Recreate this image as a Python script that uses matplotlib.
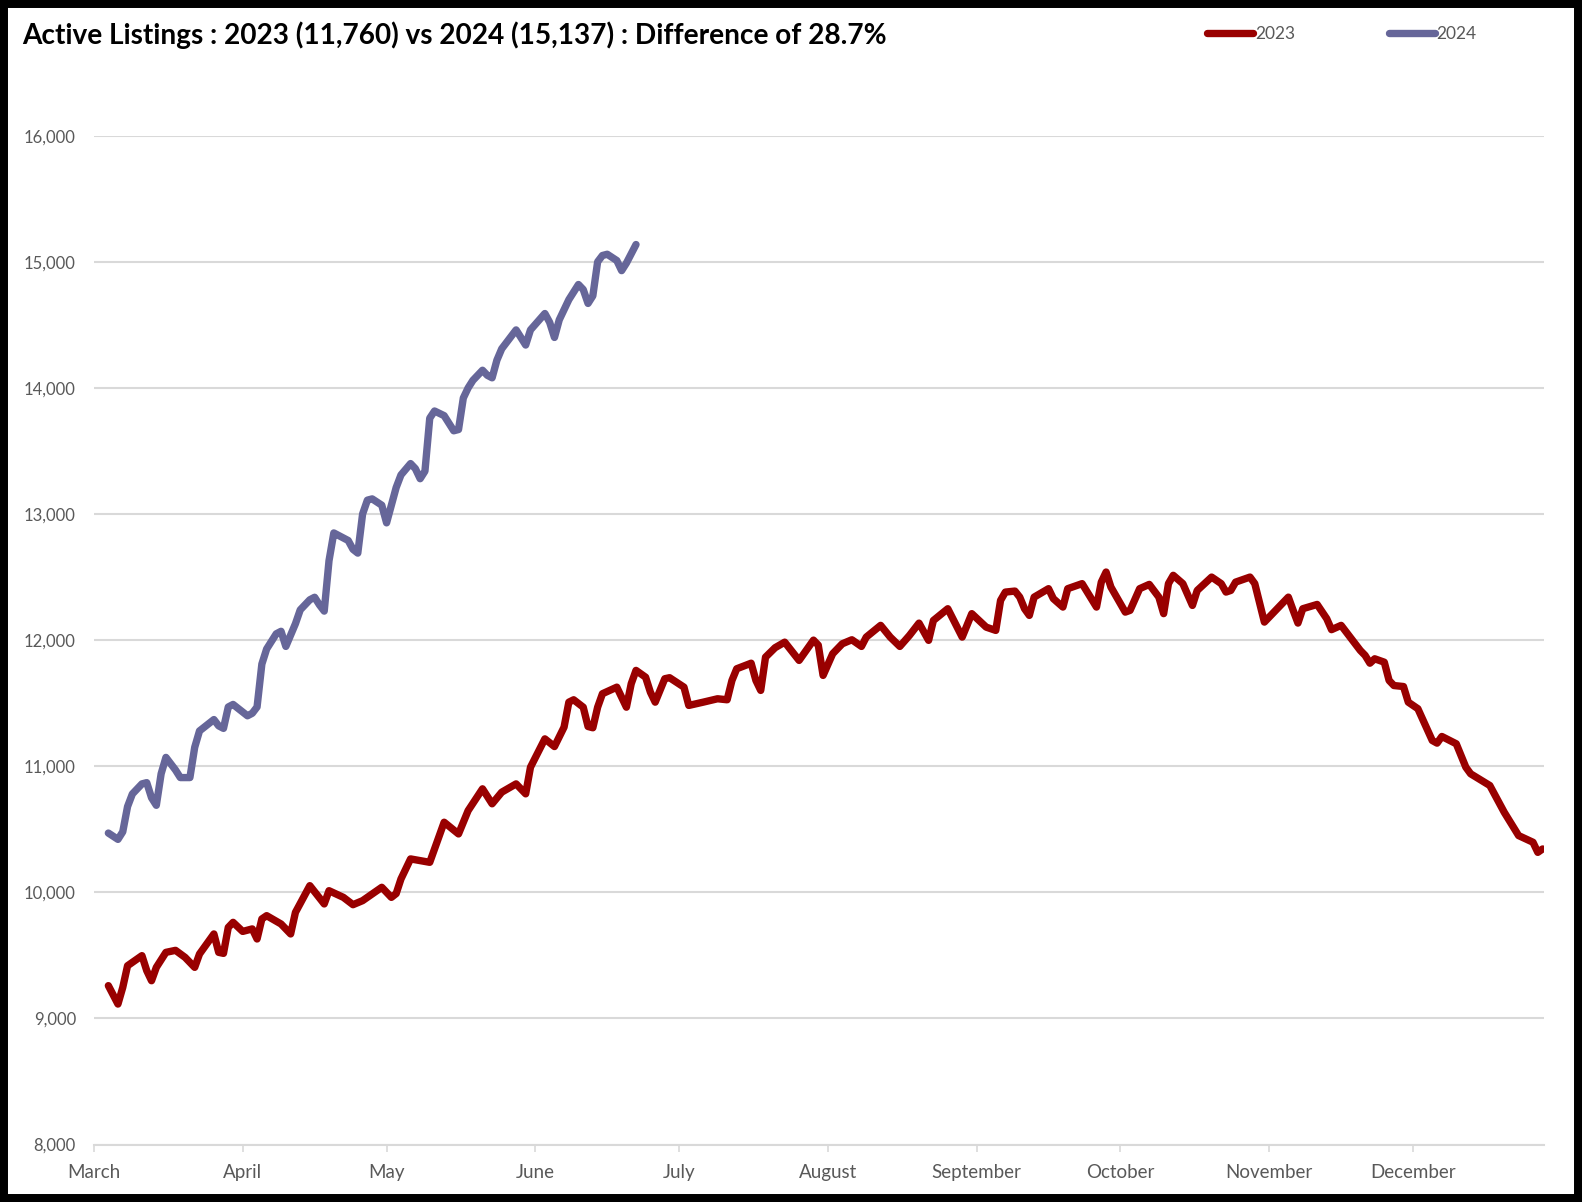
import pandas as pd
import matplotlib
matplotlib.use("Agg")
import matplotlib.pyplot as plt
import matplotlib.dates as mdates
from matplotlib.patches import Rectangle
from matplotlib.ticker import FuncFormatter

# days counted from 1 March
days_2023 = [3, 5, 6, 7, 10, 11, 12, 13, 15, 17, 19, 21, 22, 25, 26, 27, 28, 29, 31,
             33, 34, 35, 36, 39, 41, 42, 45, 48, 49, 52, 54, 56, 60, 62, 63, 64, 66,
             70, 73, 76, 78, 81, 83, 85, 88, 90, 91, 94, 96, 98, 99, 100, 102, 103,
             104, 105, 106, 109, 111, 112, 113, 115, 116, 117, 119, 120, 123, 124,
             127, 130, 132, 133, 134, 137, 138, 139, 140, 142, 144, 147, 150, 151,
             152, 154, 156, 158, 160, 161, 164, 166, 168, 170, 172, 174, 175, 178,
             181, 183, 186, 188, 189, 190, 192, 193, 194, 195, 196, 199, 200, 202,
             203, 206, 209, 210, 211, 212, 215, 216, 218, 220, 222, 223, 224, 225,
             227, 229, 230, 233, 235, 236, 237, 238, 241, 242, 244, 246, 249, 250,
             251, 252, 255, 257, 258, 260, 264, 265, 266, 267, 269, 270, 271, 273,
             274, 276, 279, 280, 281, 284, 286, 287, 291, 294, 297, 300, 301, 302]
listings_2023 = [9260, 9114, 9246, 9418, 9498, 9379, 9299, 9405, 9524, 9540, 9484, 9405,
                 9511, 9670, 9524, 9516, 9722, 9762, 9690, 9710, 9630, 9789, 9815, 9749,
                 9670, 9841, 10053, 9908, 10013, 9960, 9902, 9934, 10040, 9960, 9990,
                 10106, 10265, 10238, 10556, 10463, 10648, 10821, 10702, 10794, 10860,
                 10781, 10992, 11217, 11156, 11310, 11508, 11527, 11468, 11315, 11305,
                 11468, 11575, 11627, 11468, 11654, 11760, 11706, 11587, 11508, 11694,
                 11702, 11627, 11482, 11508, 11535, 11527, 11680, 11773, 11817, 11680,
                 11601, 11865, 11940, 11984, 11839, 12000, 11960, 11720, 11892, 11971,
                 12003, 11950, 12024, 12117, 12024, 11950, 12037, 12135, 11998, 12156,
                 12249, 12024, 12210, 12103, 12077, 12315, 12381, 12389, 12341, 12249,
                 12196, 12341, 12408, 12329, 12262, 12408, 12448, 12262, 12460, 12540,
                 12421, 12222, 12236, 12408, 12442, 12341, 12210, 12448, 12514, 12448,
                 12275, 12394, 12500, 12448, 12381, 12394, 12460, 12500, 12448, 12143,
                 12222, 12341, 12236, 12135, 12249, 12283, 12170, 12083, 12117, 11918,
                 11879, 11817, 11852, 11825, 11680, 11640, 11632, 11508, 11456, 11204,
                 11183, 11236, 11178, 10992, 10940, 10847, 10635, 10450, 10397, 10317,
                 10344]

days_2024 = [3, 5, 6, 7, 8, 10, 11, 12, 13, 14, 15, 17, 18, 20, 21, 22, 25, 26, 27, 28,
             29, 32, 33, 34, 35, 36, 38, 39, 40, 42, 43, 45, 46, 47, 48, 49, 50, 51, 53,
             54, 55, 56, 57, 58, 60, 61, 63, 64, 66, 67, 68, 69, 70, 71, 73, 74, 75, 76,
             77, 78, 79, 81, 82, 83, 84, 85, 88, 89, 90, 91, 94, 95, 96, 97, 99, 101,
             102, 103, 104, 105, 106, 107, 109, 110, 111, 113]
listings_2024 = [10470, 10420, 10480, 10680, 10780, 10860, 10870, 10750, 10690, 10940,
                 11070, 10970, 10910, 10910, 11150, 11280, 11370, 11320, 11300, 11470,
                 11490, 11400, 11420, 11470, 11810, 11930, 12050, 12070, 11950, 12130,
                 12240, 12320, 12340, 12280, 12230, 12630, 12850, 12830, 12790, 12720,
                 12690, 13000, 13110, 13120, 13070, 12930, 13210, 13310, 13400, 13360,
                 13280, 13340, 13760, 13817, 13780, 13720, 13660, 13670, 13920, 14000,
                 14060, 14140, 14100, 14080, 14220, 14310, 14460, 14400, 14340, 14460,
                 14590, 14520, 14400, 14540, 14700, 14820, 14780, 14670, 14730, 15000,
                 15050, 15060, 15010, 14930, 14990, 15137]

season_start = pd.Timestamp("2023-03-01")
x_2023 = season_start + pd.to_timedelta(days_2023, unit="D")
x_2024 = season_start + pd.to_timedelta(days_2024, unit="D")

plt.rcParams["font.family"] = ["Lato", "DejaVu Sans"]
grey_text = "#595959"
grid_grey = "#d9d9d9"

fig = plt.figure(figsize=(15.82, 12.02), dpi=100)
ax = fig.add_axes([0.0594, 0.0478, 0.9166, 0.8393])

line_style = dict(linewidth=5.3, solid_capstyle="round", solid_joinstyle="round")
ax.plot(x_2023, listings_2023, color="#990000", label="2023", **line_style)
ax.plot(x_2024, listings_2024, color="#666699", label="2024", **line_style)

ax.set_ylim(8000, 16000)
ax.set_xlim(season_start, season_start + pd.Timedelta(days=302.3))
ax.set_yticks(range(8000, 16001, 1000))
ax.yaxis.set_major_formatter(FuncFormatter(lambda v, p: f"{int(v):,}"))
ax.grid(axis="y", color=grid_grey, linewidth=1.5)
ax.set_axisbelow(True)

ax.xaxis.set_major_locator(mdates.MonthLocator())
ax.xaxis.set_major_formatter(mdates.DateFormatter("%B"))

for side in ["top", "right", "left"]:
    ax.spines[side].set_visible(False)
ax.spines["bottom"].set_color(grid_grey)
ax.spines["bottom"].set_linewidth(1.5)

ax.tick_params(axis="y", length=0, pad=13, labelsize=12, labelcolor=grey_text)
ax.tick_params(axis="x", length=5, width=1.2, color=grid_grey, pad=9,
               labelsize=13.5, labelcolor=grey_text)

fig.text(0.0139, 0.9705, "Active Listings : 2023 (11,760) vs 2024 (15,137) : Difference of 28.7%",
         fontsize=20.2, fontweight="bold", va="center", ha="left")

fig.legend(loc="center left", bbox_to_anchor=(0.7575, 0.972), ncol=2, frameon=False,
           handlelength=2.65, handletextpad=0.1, columnspacing=5.4, borderpad=0,
           labelcolor=grey_text, prop={"size": 12.5})

# black frame around the picture
fig.patches.append(Rectangle((0, 0), 1, 1, transform=fig.transFigure, fill=False,
                             edgecolor="black", linewidth=11.5))

fig.savefig("out.png", dpi=100, facecolor="white")
